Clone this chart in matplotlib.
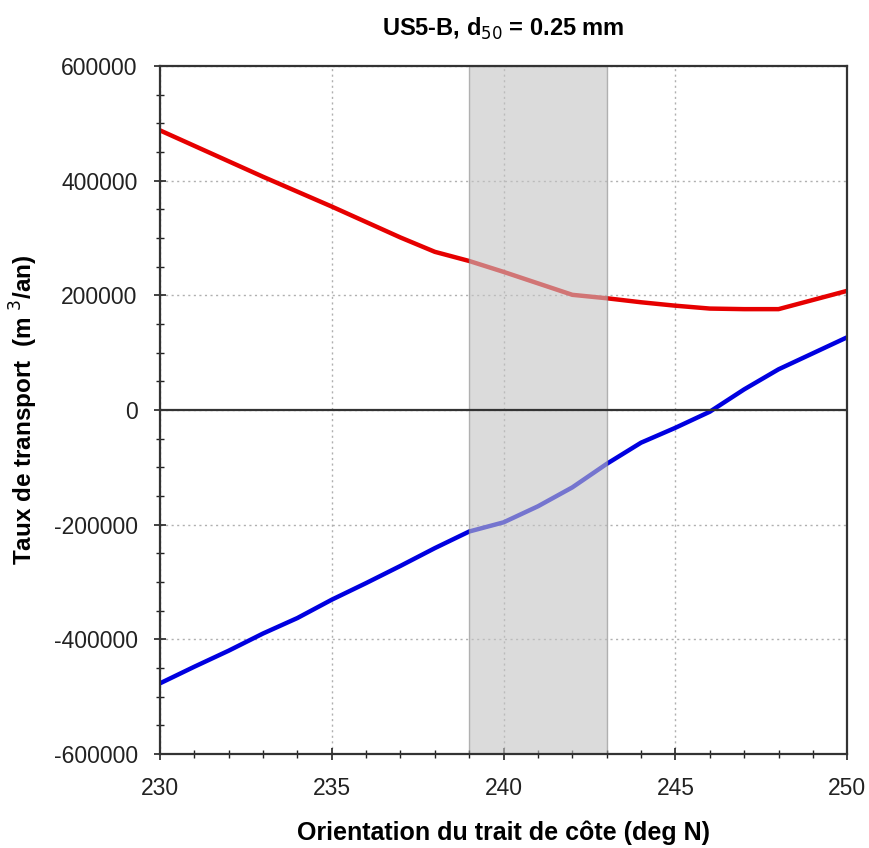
import matplotlib
matplotlib.use("Agg")
import matplotlib.pyplot as plt
from matplotlib.ticker import MultipleLocator, FuncFormatter

orientation = [230, 231, 232, 233, 234, 235, 236, 237, 238, 239, 240,
               241, 242, 243, 244, 245, 246, 247, 248, 249, 250]
transport_red = [488000, 461000, 434000, 407000, 381000, 355000, 328000, 301000,
                 276000, 260000, 241000, 221000, 201000, 195000, 188000, 182000,
                 177000, 176000, 176000, 192000, 208000]
transport_blue = [-477000, -448000, -420000, -390000, -363000, -331000, -302000,
                  -272000, -241000, -212000, -196000, -168000, -135000, -94000,
                  -57000, -31000, -3000, 36000, 71000, 99000, 127000]
shade_range = [239, 243]

plt.rcParams['font.family'] = ['Liberation Sans', 'DejaVu Sans']

fig = plt.figure(figsize=(8.69, 8.48), dpi=100)
ax = fig.add_axes([0.184, 0.111, 0.791, 0.811])

ax.plot(orientation, transport_red, color='#e60000', lw=3.2, zorder=3)
ax.plot(orientation, transport_blue, color='#0000e0', lw=3.2, zorder=3)
ax.axvspan(shade_range[0], shade_range[1], facecolor='#c4c4c4', alpha=0.6,
           edgecolor='#888888', lw=1.0, zorder=4)
ax.axhline(0, color='#333333', lw=1.6, zorder=5)

ax.set_xlim(230, 250)
ax.set_ylim(-600000, 600000)
ax.xaxis.set_major_locator(MultipleLocator(5))
ax.xaxis.set_minor_locator(MultipleLocator(1))
ax.yaxis.set_major_locator(MultipleLocator(200000))
ax.yaxis.set_minor_locator(MultipleLocator(50000))
ax.yaxis.set_major_formatter(FuncFormatter(lambda v, p: f"{int(v)}"))

ax.grid(True, which='major', color='#b0b0b0', linestyle=(0, (1.5, 2.5)), lw=1.0)
ax.tick_params(axis='x', which='major', pad=13)
ax.tick_params(axis='y', which='major', pad=12)
ax.tick_params(which='major', direction='inout', length=8, width=1.2, labelsize=16.5, colors='#222222')
ax.tick_params(which='minor', direction='inout', length=6, width=1.0, colors='#222222')
for s in ax.spines.values():
    s.set_linewidth(1.6)
    s.set_color('#333333')
    s.set_zorder(6)

ax.set_title("US5-B, d$_{50}$ = 0.25 mm", fontsize=17, fontweight='bold', pad=22)
ax.set_xlabel("Orientation du trait de côte (deg N)", fontsize=18, fontweight='bold')
ax.xaxis.set_label_coords(0.5, -0.115)
ax.xaxis.label.set_va('center')
ax.set_ylabel("Taux de transport  (m $^{3}$/an)", fontsize=17.5, fontweight='bold')
ax.yaxis.set_label_coords(-0.198, 0.5)
ax.yaxis.label.set_va('center')

fig.savefig("out.png", dpi=100)
